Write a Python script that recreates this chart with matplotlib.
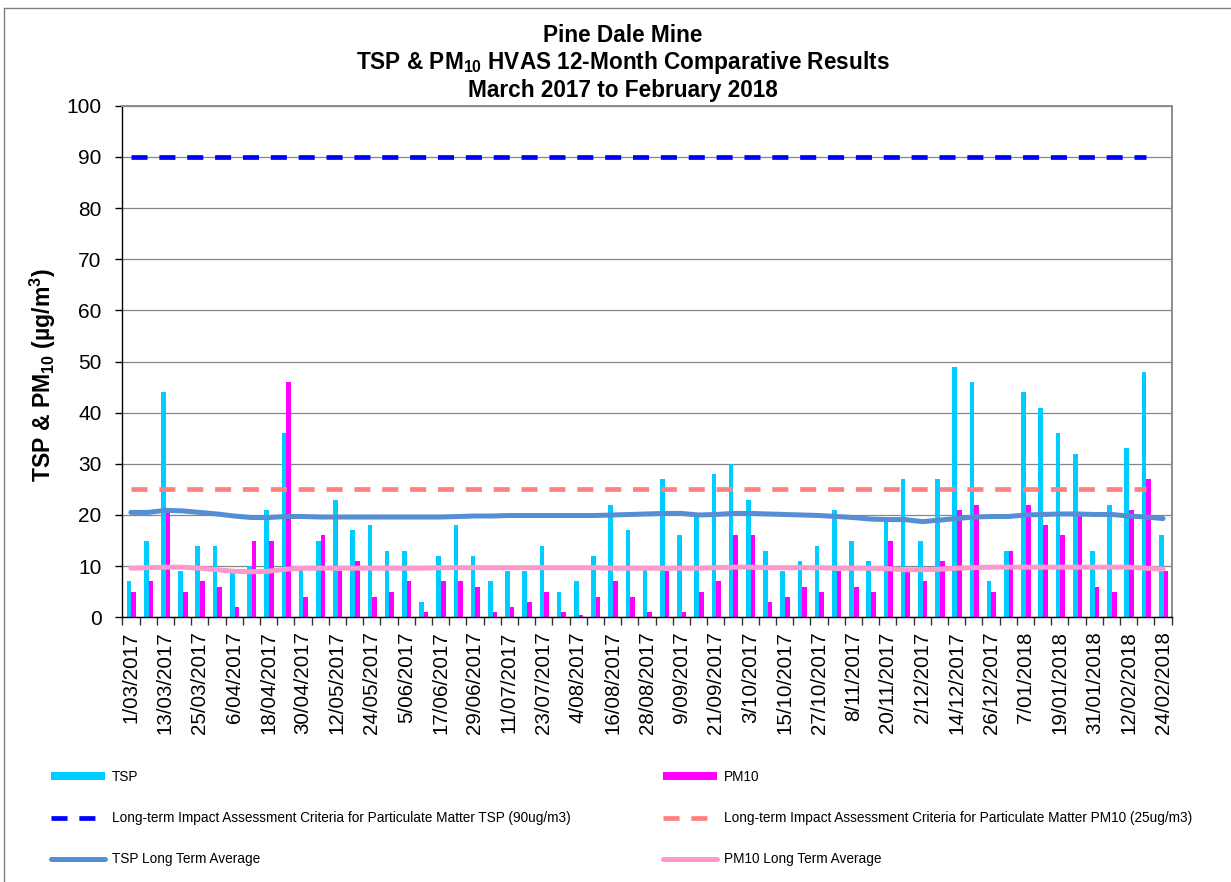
import numpy as np
import matplotlib
matplotlib.use('Agg')
import matplotlib.pyplot as plt
from matplotlib.lines import Line2D

plt.rcParams['font.family'] = ['Liberation Sans', 'DejaVu Sans']
plt.rcParams['mathtext.default'] = 'regular'

# 6-day HVAS samples, 1/03/2017 to 24/02/2018 (61 runs)
tsp = [7, 15, 44, 9, 14, 14, 9, 10, 21, 36, 10, 15, 23, 17, 18, 13, 13, 3, 12, 18,
       12, 7, 9, 9, 14, 5, 7, 12, 22, 17, 10, 27, 16, 20, 28, 30, 23, 13, 9, 11,
       14, 21, 15, 11, 19, 27, 15, 27, 49, 46, 7, 13, 44, 41, 36, 32, 13, 22, 33, 48,
       16]
pm10 = [5, 7, 21, 5, 7, 6, 2, 15, 15, 46, 4, 16, 9, 11, 4, 5, 7, 1, 7, 7,
        6, 1, 2, 3, 5, 1, 0.5, 4, 7, 4, 1, 9, 1, 5, 7, 16, 16, 3, 4, 6,
        5, 9, 6, 5, 15, 9, 7, 11, 21, 22, 5, 13, 22, 18, 16, 20, 6, 5, 21, 27,
        9]
tsp_lta = [20.5, 20.5, 20.9, 20.8, 20.5, 20.2, 19.8, 19.5, 19.5, 19.7, 19.7, 19.6, 19.6, 19.6, 19.6,
           19.6, 19.6, 19.6, 19.6, 19.7, 19.8, 19.8, 19.9, 19.9, 19.9, 19.9, 19.9, 19.9, 20.0, 20.1,
           20.2, 20.3, 20.3, 20.0, 20.1, 20.3, 20.3, 20.2, 20.1, 20.0, 19.9, 19.7, 19.5, 19.2, 19.1,
           19.1, 18.7, 19.0, 19.3, 19.6, 19.7, 19.7, 20.0, 20.1, 20.2, 20.2, 20.1, 20.1, 19.8, 19.6,
           19.3]
pm10_lta = [9.6, 9.7, 9.8, 9.8, 9.6, 9.3, 9.0, 8.9, 9.0, 9.4, 9.6, 9.6, 9.6, 9.6, 9.6,
            9.6, 9.6, 9.6, 9.7, 9.7, 9.7, 9.7, 9.7, 9.7, 9.7, 9.7, 9.7, 9.7, 9.6, 9.6,
            9.6, 9.6, 9.6, 9.6, 9.7, 9.8, 9.8, 9.7, 9.7, 9.7, 9.7, 9.6, 9.6, 9.6, 9.5,
            9.3, 9.3, 9.4, 9.6, 9.7, 9.8, 9.8, 9.8, 9.8, 9.8, 9.8, 9.8, 9.8, 9.8, 9.6,
            9.4]
tsp_criteria = [90] * 60
pm10_criteria = [25] * 60

tick_labels = ['1/03/2017', '13/03/2017', '25/03/2017', '6/04/2017', '18/04/2017', '30/04/2017',
               '12/05/2017', '24/05/2017', '5/06/2017', '17/06/2017', '29/06/2017', '11/07/2017',
               '23/07/2017', '4/08/2017', '16/08/2017', '28/08/2017', '9/09/2017', '21/09/2017',
               '3/10/2017', '15/10/2017', '27/10/2017', '8/11/2017', '20/11/2017', '2/12/2017',
               '14/12/2017', '26/12/2017', '7/01/2018', '19/01/2018', '31/01/2018', '12/02/2018',
               '24/02/2018']

W, H = 1231, 882
fig = plt.figure(figsize=(W / 100, H / 100), dpi=100)
ax = fig.add_axes([122.3 / W, 1 - 617.3 / H, 1049.4 / W, 511.6 / H])

x = np.arange(len(tsp))
bw = 0.27
b1 = ax.bar(x - 0.11, tsp, bw, color='#00CCFF', label='TSP', zorder=2)
b2 = ax.bar(x + 0.16, pm10, bw, color='#FF00FF', label='PM10', zorder=2)

xc = np.arange(len(tsp_criteria))
l1, = ax.plot(xc, tsp_criteria, color='#0000FF', lw=3.4, dashes=(3.4, 2.5), zorder=3,
              label='Long-term Impact Assessment Criteria for Particulate Matter TSP (90ug/m3)')
l2, = ax.plot(xc, pm10_criteria, color='#FF8080', lw=3.4, dashes=(3.4, 2.5), zorder=3,
              label='Long-term Impact Assessment Criteria for Particulate Matter PM10 (25ug/m3)')
l3, = ax.plot(x, tsp_lta, color='#558ED5', lw=3.6, solid_joinstyle='round',
              solid_capstyle='round', zorder=4, label='TSP Long Term Average')
l4, = ax.plot(x, pm10_lta, color='#FF99CC', lw=3.6, solid_joinstyle='round',
              solid_capstyle='round', zorder=4, label='PM10 Long Term Average')

ax.set_xlim(-0.5, len(tsp) - 0.5)
ax.set_ylim(0, 100)
ax.set_yticks(np.arange(0, 101, 10))
ax.yaxis.grid(True, color='#868686', lw=0.9, zorder=0)
ax.set_axisbelow(True)
ax.tick_params(axis='y', labelsize=15, length=5, width=1, pad=10)

# tick marks between the samples, labels on every second sample
ax.set_xticks(np.arange(-0.5, len(tsp), 1))
ax.set_xticklabels([])
ax.set_xticks(x[::2], minor=True)
ax.set_xticklabels(tick_labels, minor=True, rotation=90, fontsize=14.8)
ax.tick_params(axis='x', which='major', length=6, width=1, color='#333333')
ax.tick_params(axis='x', which='minor', length=0, pad=10.2)

for s in ['top', 'right']:
    ax.spines[s].set_color('#8C8C8C')
    ax.spines[s].set_linewidth(1.4)
for s in ['left', 'bottom']:
    ax.spines[s].set_color('black')
    ax.spines[s].set_linewidth(1.0)

fig.text(623 / W, 1 - 36 / H, 'Pine Dale Mine', ha='center', va='center',
         fontsize=16.3, fontweight='bold')
fig.text(623 / W, 1 - 63 / H, 'TSP & PM$_{10}$ HVAS 12-Month Comparative Results',
         ha='center', va='center', fontsize=16.3, fontweight='bold')
fig.text(623 / W, 1 - 90 / H, 'March 2017 to February 2018', ha='center', va='center',
         fontsize=16.3, fontweight='bold')
fig.text(43 / W, 1 - 375 / H, 'TSP & PM$_{10}$ (µg/m$^{3}$)', rotation=90,
         ha='center', va='center', fontsize=16.6, fontweight='bold')

leg_kw = dict(loc='upper left', frameon=False, fontsize=9.8, handlelength=4.0,
              handleheight=0.5, handletextpad=0.5, labelspacing=2.0,
              borderpad=0, borderaxespad=0)
fig.legend(handles=[b1, l1, l3], bbox_to_anchor=(51 / W, 1 - 770 / H), **leg_kw)
fig.legend(handles=[b2, l2, l4], bbox_to_anchor=(663 / W, 1 - 770 / H), **leg_kw)

# chart area border (cropped on right and bottom)
fig.add_artist(Line2D([3.7 / W, 3.7 / W], [0, 1 - 7.5 / H], transform=fig.transFigure,
                      color='#808080', lw=1.0))
fig.add_artist(Line2D([3.7 / W, 1], [1 - 7.5 / H, 1 - 7.5 / H], transform=fig.transFigure,
                      color='#808080', lw=1.0))

fig.savefig('out.png', dpi=100)
